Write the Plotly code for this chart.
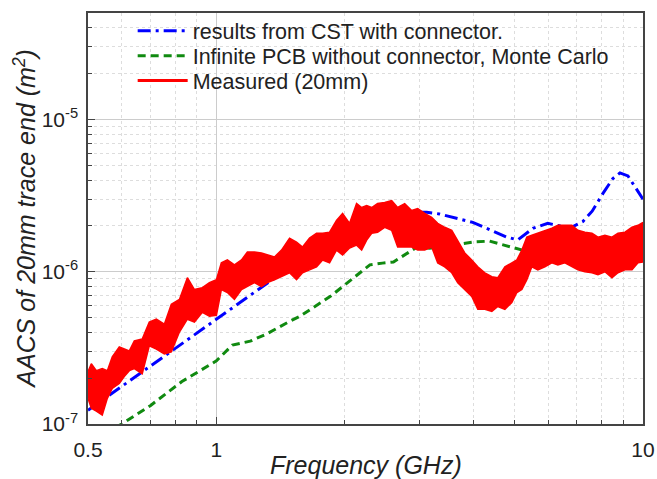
import plotly.graph_objects as go

# ---- data (frequency in GHz, AACS in m^2) ----
cst_freq = [0.5, 1.0, 1.33, 1.6, 2.0, 2.5, 2.88, 3.11, 3.33, 3.99, 4.79, 5.09, 5.52,
            5.98, 6.4, 6.8, 7.23, 7.6, 8.05, 8.5, 8.83, 9.22, 9.6, 10.0]
cst_aacs = [1.23e-7, 4.9e-7, 8.6e-7, 1.2e-6, 1.8e-6, 2.3e-6, 2.46e-6, 2.46e-6, 2.4e-6,
            2.11e-6, 1.69e-6, 1.62e-6, 1.93e-6, 2.08e-6, 2.0e-6, 1.96e-6, 2.14e-6,
            2.5e-6, 3.26e-6, 4.1e-6, 4.46e-6, 4.26e-6, 3.6e-6, 3.0e-6]

mc_freq = [0.58, 0.6, 0.7, 0.83, 1.0, 1.09, 1.2, 1.31, 1.48, 1.57, 1.85, 2.29, 2.45,
           2.6, 2.95, 3.16, 3.6, 4.0, 4.37, 4.8, 5.14, 5.4]
mc_aacs = [0.95e-7, 1.0e-7, 1.32e-7, 1.9e-7, 2.6e-7, 3.3e-7, 3.5e-7, 3.9e-7, 4.7e-7,
           5.1e-7, 6.9e-7, 1.11e-6, 1.14e-6, 1.16e-6, 1.45e-6, 1.43e-6, 1.5e-6,
           1.57e-6, 1.59e-6, 1.48e-6, 1.39e-6, 1.35e-6]

meas_freq = [0.500, 0.509, 0.523, 0.540, 0.555, 0.570, 0.592, 0.608, 0.625, 0.642,
             0.670, 0.696, 0.723, 0.755, 0.784, 0.819, 0.855, 0.888, 0.927, 0.963,
             1.000, 1.027, 1.061, 1.102, 1.145, 1.182, 1.228, 1.275, 1.317, 1.368,
             1.421, 1.484, 1.541, 1.592, 1.653, 1.717, 1.774, 1.842, 1.912, 1.976,
             2.052, 2.131, 2.190, 2.250, 2.312, 2.387, 2.480, 2.575, 2.660, 2.763,
             2.869, 2.964, 3.078, 3.196, 3.302, 3.429, 3.562, 3.679, 3.821, 3.968,
             4.100, 4.258, 4.422, 4.568, 4.745, 4.926, 5.062, 5.200, 5.342, 5.488,
             5.669, 5.888, 6.114, 6.316, 6.560, 6.813, 7.037, 7.308, 7.592, 7.842,
             8.142, 8.457, 8.737, 9.073, 9.424, 9.734, 10.0]
# upper / lower edge of the noisy measured trace, in units of 1e-6 m^2
meas_upper_e6 = [0.221, 0.249, 0.224, 0.231, 0.224, 0.276, 0.321, 0.311, 0.302, 0.351,
                 0.362, 0.467, 0.488, 0.453, 0.611, 0.658, 0.914, 0.764, 0.787, 0.848,
                 0.887, 1.144, 1.196, 1.110, 1.196, 1.349, 1.349, 1.329, 1.289, 1.251,
                 1.389, 1.663, 1.566, 1.453, 1.663, 1.792, 1.792, 1.819, 2.176, 2.416,
                 2.080, 2.806, 2.644, 2.723, 2.644, 2.806, 2.848, 2.934, 2.644, 2.806,
                 2.527, 2.604, 2.416, 2.276, 2.080, 1.960, 1.874, 1.614, 1.329, 1.196,
                 1.078, 0.985, 0.928, 0.914, 1.078, 1.144, 1.196, 1.389, 1.688, 1.739,
                 1.792, 1.874, 1.931, 2.019, 2.019, 2.019, 1.874, 1.819, 1.792, 1.688,
                 1.739, 1.688, 1.792, 1.819, 1.960, 2.019, 2.112]
meas_lower_e6 = [0.1475, 0.127, 0.1215, 0.1144, 0.1475, 0.1713, 0.1846, 0.205, 0.224, 0.231,
                 0.214, 0.326, 0.311, 0.289, 0.298, 0.402, 0.488, 0.467, 0.542, 0.510,
                 0.518, 0.764, 0.731, 0.658, 0.764, 0.799, 0.848, 0.799, 0.848, 0.887,
                 0.928, 0.985, 0.887, 0.985, 1.030, 1.078, 1.196, 1.144, 1.389, 1.289,
                 1.432, 1.497, 1.389, 1.614, 1.792, 1.819, 1.960, 1.874, 1.453, 1.453,
                 1.453, 1.389, 1.389, 1.453, 1.144, 1.078, 0.985, 0.848, 0.764, 0.688,
                 0.567, 0.567, 0.550, 0.592, 0.567, 0.629, 0.731, 0.764, 0.887, 1.078,
                 1.030, 1.078, 1.144, 1.110, 1.144, 1.078, 1.030, 1.000, 0.985, 0.956,
                 1.000, 0.914, 0.985, 1.030, 1.030, 1.144, 1.161]

x_tickvals = [0.5, 1, 10]
x_ticktext = ["0.5", "1", "10"]
x_minor = [0.6, 0.7, 0.8, 0.9, 2, 3, 4, 5, 6, 7, 8, 9]
y_tickvals = [1e-7, 1e-6, 1e-5]
y_ticktext = ["10<sup>-7</sup>", "10<sup>-6</sup>", "10<sup>-5</sup>"]
y_minor = [m * 10.0 ** e for e in (-7, -6, -5) for m in range(2, 10) if m * 10.0 ** e < 5.1e-5]

meas_upper = [v * 1e-6 for v in meas_upper_e6]
meas_lower = [v * 1e-6 for v in meas_lower_e6]

FONT = "Arial, Liberation Sans, sans-serif"
RED = "#ff0000"

fig = go.Figure()
fig.add_trace(go.Scatter(x=cst_freq, y=cst_aacs, mode="lines", name="results from CST with connector.",
                         legend="legend",
                         line=dict(color="#0000ff", width=3, dash="13px,5px,3px,5px")))
fig.add_trace(go.Scatter(x=mc_freq, y=mc_aacs, mode="lines",
                         name="Infinite PCB without connector, Monte Carlo", legend="legend2",
                         line=dict(color="#108a10", width=3, dash="8px,5px")))
fig.add_trace(go.Scatter(x=[None], y=[None], mode="lines", name="Measured (20mm)", legend="legend3",
                         line=dict(color=RED, width=3)))
fig.add_trace(go.Scatter(x=meas_freq, y=meas_lower, mode="lines", showlegend=False,
                         line=dict(color=RED, width=1.5), hoverinfo="skip"))
fig.add_trace(go.Scatter(x=meas_freq, y=meas_upper, mode="lines", showlegend=False,
                         fill="tonexty", fillcolor=RED,
                         line=dict(color=RED, width=1.5), hoverinfo="skip"))

axis_common = dict(
    showline=True, linecolor="#444", linewidth=1.5, mirror=True,
    ticks="inside", ticklen=7, tickcolor="#444",
    showgrid=True, gridcolor="#cccccc", gridwidth=1,
    tickfont=dict(family=FONT, size=21, color="#222"),
    zeroline=False, automargin=False,
)

fig.update_xaxes(type="log", range=[-0.30103, 1.0], tickvals=x_tickvals, ticktext=x_ticktext,
                 minor=dict(tickvals=x_minor, ticks="inside", ticklen=4, tickcolor="#444",
                            showgrid=True, gridcolor="#dddddd", griddash="dot", gridwidth=1),
                 ticklabelstandoff=6, **axis_common)
fig.update_yaxes(type="log", range=[-7.0, -4.3], tickvals=y_tickvals, ticktext=y_ticktext,
                 minor=dict(tickvals=y_minor, ticks="inside", ticklen=4, tickcolor="#444",
                            showgrid=True, gridcolor="#dddddd", griddash="dot", gridwidth=1),
                 ticklabelstandoff=4, **axis_common)

fig.add_annotation(text="<i>AACS of 20mm trace end (m<sup>2</sup>)</i>", xref="paper", yref="paper",
                   x=-0.115, y=0.5, textangle=-90, showarrow=False, xanchor="center", yanchor="middle",
                   font=dict(family=FONT, size=25, color="#222"))
fig.add_annotation(text="<i>Frequency (GHz)</i>", xref="paper", yref="paper",
                   x=0.5, y=-0.1, showarrow=False, xanchor="center", yanchor="middle",
                   font=dict(family=FONT, size=25, color="#222"))

leg_common = dict(x=0.0805, xanchor="left", yanchor="middle", bgcolor="rgba(0,0,0,0)",
                  font=dict(family=FONT, size=21.5, color="#222"), itemwidth=50, borderwidth=0)

def ypix(p):
    return (424 - p) / 414.0

fig.update_layout(
    width=657, height=479,
    margin=dict(l=88, r=14, t=10, b=55),
    paper_bgcolor="white", plot_bgcolor="white",
    showlegend=True,
    legend=dict(y=ypix(28), **leg_common),
    legend2=dict(y=ypix(53), **leg_common),
    legend3=dict(y=ypix(78), **leg_common),
)

fig.write_html("out.html", config={"displayModeBar": False},
               post_script="document.body.style.margin='0';document.body.style.padding='0';")
